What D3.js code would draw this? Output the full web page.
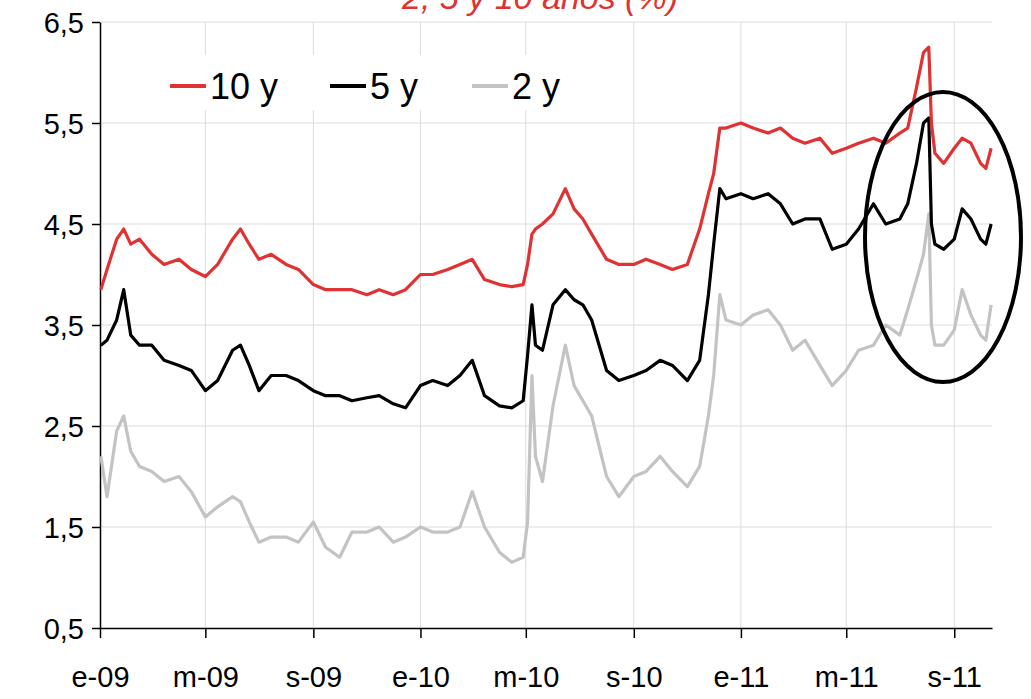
<!DOCTYPE html>
<html>
<head>
<meta charset="utf-8">
<script src="https://cdn.jsdelivr.net/npm/d3@7"></script>
<style>
  body { margin: 0; background: #fff; }
  text { font-family: "Liberation Sans", Arial, sans-serif; }
</style>
</head>
<body>
<svg id="chart"></svg>
<script>
const dates = ["2009-01-02","2009-01-09","2009-01-20","2009-01-28","2009-02-05","2009-02-15","2009-03-01","2009-03-15",
  "2009-04-01","2009-04-15","2009-05-01","2009-05-15","2009-06-01","2009-06-10","2009-06-20","2009-07-01","2009-07-15",
  "2009-08-01","2009-08-15","2009-09-01","2009-09-15","2009-10-01","2009-10-15","2009-11-01","2009-11-15","2009-12-01",
  "2009-12-15","2010-01-01","2010-01-15","2010-02-01","2010-02-15","2010-03-01","2010-03-15","2010-04-01","2010-04-15",
  "2010-04-28","2010-05-03","2010-05-08","2010-05-12","2010-05-20","2010-06-01","2010-06-15","2010-06-25","2010-07-05",
  "2010-07-15","2010-08-01","2010-08-15","2010-09-01","2010-09-15","2010-10-01","2010-10-15","2010-11-01","2010-11-15",
  "2010-11-25","2010-12-01","2010-12-08","2010-12-15","2011-01-01","2011-01-15","2011-02-01","2011-02-15","2011-03-01",
  "2011-03-15","2011-04-01","2011-04-15","2011-05-01","2011-05-15","2011-06-01","2011-06-15","2011-07-01","2011-07-10",
  "2011-07-20","2011-07-28","2011-08-03","2011-08-06","2011-08-10","2011-08-20","2011-09-01","2011-09-10","2011-09-20",
  "2011-10-01","2011-10-07","2011-10-13"];

const y10 = [3.85,4.05,4.35,4.45,4.30,4.35,4.20,4.10,4.15,4.05,3.98,4.10,4.35,4.45,4.30,4.15,4.20,
  4.10,4.05,3.90,3.85,3.85,3.85,3.80,3.85,3.80,3.85,4.00,4.00,4.05,4.10,4.15,3.95,3.90,3.88,
  3.90,4.10,4.40,4.45,4.50,4.60,4.85,4.65,4.55,4.40,4.15,4.10,4.10,4.15,4.10,4.05,4.10,4.45,
  4.80,5.00,5.45,5.45,5.50,5.45,5.40,5.45,5.35,5.30,5.35,5.20,5.25,5.30,5.35,5.30,5.40,5.45,
  5.85,6.20,6.25,5.50,5.20,5.10,5.25,5.35,5.30,5.10,5.05,5.25];

const y5 = [3.30,3.35,3.55,3.85,3.40,3.30,3.30,3.15,3.10,3.05,2.85,2.95,3.25,3.30,3.10,2.85,3.00,
  3.00,2.95,2.85,2.80,2.80,2.75,2.78,2.80,2.72,2.68,2.90,2.95,2.90,3.00,3.15,2.80,2.70,2.68,
  2.75,3.20,3.70,3.30,3.25,3.70,3.85,3.75,3.70,3.55,3.05,2.95,3.00,3.05,3.15,3.10,2.95,3.15,
  3.80,4.30,4.85,4.75,4.80,4.75,4.80,4.70,4.50,4.55,4.55,4.25,4.30,4.45,4.70,4.50,4.55,4.70,
  5.10,5.50,5.55,4.50,4.30,4.25,4.35,4.65,4.55,4.35,4.30,4.50];

const y2 = [2.20,1.80,2.45,2.60,2.25,2.10,2.05,1.95,2.00,1.85,1.60,1.70,1.80,1.75,1.55,1.35,1.40,
  1.40,1.35,1.55,1.30,1.20,1.45,1.45,1.50,1.35,1.40,1.50,1.45,1.45,1.50,1.85,1.50,1.25,1.15,
  1.20,1.55,3.00,2.20,1.95,2.70,3.30,2.90,2.75,2.60,2.00,1.80,2.00,2.05,2.20,2.05,1.90,2.10,
  2.60,3.00,3.80,3.55,3.50,3.60,3.65,3.50,3.25,3.35,3.10,2.90,3.05,3.25,3.30,3.50,3.40,3.65,
  3.95,4.20,4.60,3.50,3.30,3.30,3.45,3.85,3.60,3.40,3.35,3.70];

const xTickDates = ["2009-01-01","2009-05-01","2009-09-01","2010-01-01","2010-05-01","2010-09-01","2011-01-01","2011-05-01","2011-09-01"];
const xTickLabels = ["e-09","m-09","s-09","e-10","m-10","s-10","e-11","m-11","s-11"];
const yTicks = [0.5,1.5,2.5,3.5,4.5,5.5,6.5];

const series = [
  {name: "10 y", values: y10, color: "#e03232"},
  {name: "5 y", values: y5, color: "#000000"},
  {name: "2 y", values: y2, color: "#c3c3c3"}
];

const W = 1031, H = 699;
const parse = d3.timeParse("%Y-%m-%d");
const svg = d3.select("#chart").attr("width", W).attr("height", H);

const x = d3.scaleTime().domain([parse("2009-01-01"), parse("2011-10-14")]).range([100, 992]);
const y = d3.scaleLinear().domain([0.5, 6.5]).range([628, 22]);

// grid
svg.append("g").selectAll("line").data(yTicks.slice(1)).join("line")
  .attr("x1", 100).attr("x2", 992).attr("y1", d => y(d)).attr("y2", d => y(d))
  .attr("stroke", "#dcdcdc").attr("stroke-width", 1);
svg.append("g").selectAll("line").data(xTickDates.slice(1)).join("line")
  .attr("x1", d => x(parse(d))).attr("x2", d => x(parse(d)))
  .attr("y1", 22).attr("y2", 628)
  .attr("stroke", "#dcdcdc").attr("stroke-width", 1);

// axes
const yAxis = svg.append("g").attr("transform", "translate(100,0)")
  .call(d3.axisLeft(y).tickValues(yTicks).tickSize(8).tickSizeOuter(0).tickPadding(8)
    .tickFormat(d => d3.format(".1f")(d).replace(".", ",")));
const xAxis = svg.append("g").attr("transform", "translate(0,628)")
  .call(d3.axisBottom(x).tickValues(xTickDates.map(parse)).tickSize(10).tickSizeOuter(0).tickPadding(28)
    .tickFormat((d, i) => xTickLabels[i]));
[yAxis, xAxis].forEach(a => {
  a.select(".domain").attr("stroke", "#000").attr("stroke-width", 1.5);
  a.selectAll(".tick line").attr("stroke", "#000").attr("stroke-width", 1.5);
  a.selectAll("text").attr("font-size", 29).attr("fill", "#000")
    .style("font-family", "'Liberation Sans', Arial, sans-serif");
});
yAxis.selectAll("text").attr("dy", "0.35em");

// lines (drawn 2 y first, 10 y last)
const line = d3.line().x((d, i) => x(parse(dates[i]))).y(d => y(d));
series.slice().reverse().forEach(s => {
  svg.append("path").datum(s.values)
    .attr("fill", "none").attr("stroke", s.color).attr("stroke-width", 3.2)
    .attr("stroke-linejoin", "round").attr("d", line);
});

// legend
svg.append("rect").attr("x", 160).attr("y", 55).attr("width", 440).attr("height", 55).attr("fill", "#fff");
const legX = [170, 330, 472];
series.forEach((s, i) => {
  svg.append("line").attr("x1", legX[i]).attr("x2", legX[i] + 36).attr("y1", 86).attr("y2", 86)
    .attr("stroke", s.color).attr("stroke-width", 4);
  svg.append("text").attr("x", legX[i] + 40).attr("y", 99).attr("font-size", 36).text(s.name);
});

// title (cut at top)
svg.append("text").attr("x", 540).attr("y", 9).attr("text-anchor", "middle")
  .attr("font-size", 34).attr("font-style", "italic").attr("fill", "#e03232")
  .text("2, 5 y 10 años (%)");

// highlight ellipse
svg.append("ellipse").attr("cx", 943).attr("cy", 237).attr("rx", 78).attr("ry", 145)
  .attr("fill", "none").attr("stroke", "#000").attr("stroke-width", 4);
</script>
</body>
</html>
